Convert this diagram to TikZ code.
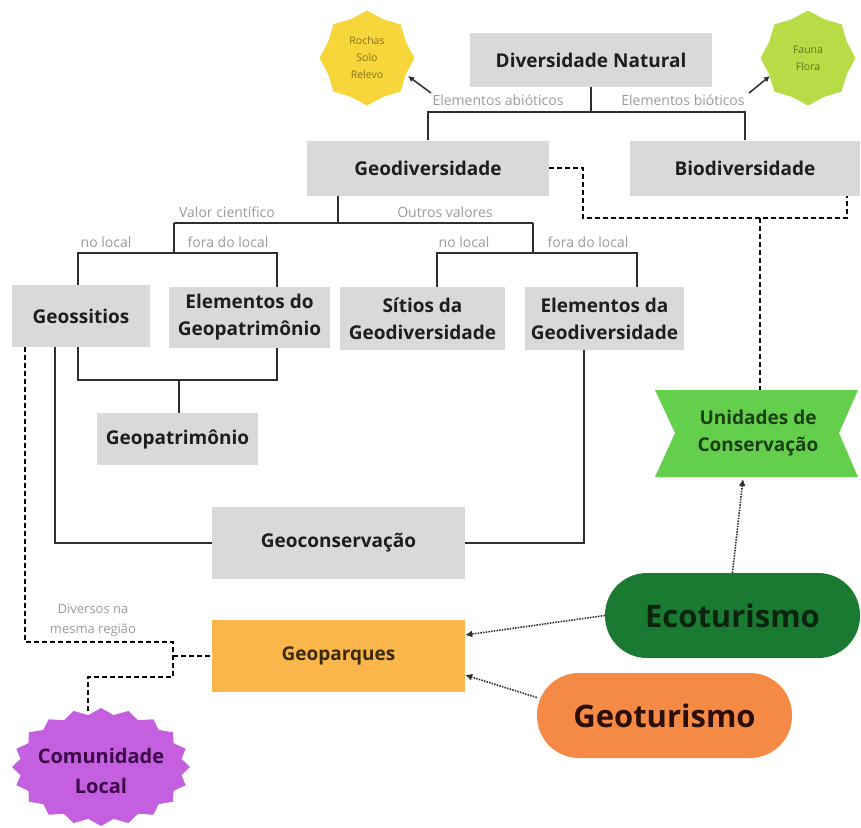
\documentclass[tikz,border=0pt]{standalone}
\usepackage{fontspec}
\setmainfont{Open Sans}
\usetikzlibrary{shapes.geometric,arrows.meta,calc}
\definecolor{boxgray}{HTML}{D9D9D9}
\definecolor{txtdark}{HTML}{1E1E1E}
\definecolor{labgray}{HTML}{9A9A9A}
\definecolor{lineC}{HTML}{2E2E2E}
\definecolor{rochasY}{HTML}{F6D63A}
\definecolor{rochasT}{HTML}{857418}
\definecolor{faunaG}{HTML}{B8DC45}
\definecolor{faunaT}{HTML}{587A20}
\definecolor{ucG}{HTML}{63CF4C}
\definecolor{ucT}{HTML}{1B3F14}
\definecolor{ecoG}{HTML}{1A7A32}
\definecolor{ecoT}{HTML}{0B2410}
\definecolor{geoO}{HTML}{F58A47}
\definecolor{geoOT}{HTML}{2B0E05}
\definecolor{gpY}{HTML}{FAB64A}
\definecolor{gpT}{HTML}{3A2A0A}
\definecolor{purp}{HTML}{C45FE0}
\definecolor{purpT}{HTML}{3A0848}
\begin{document}
\begin{tikzpicture}[x=1pt,y=-1pt,
  gbox/.style={fill=boxgray, text=txtdark, font=\bfseries\fontsize{19}{27}\selectfont, align=center, inner sep=0pt},
  lab/.style={text=labgray, font=\fontsize{14}{15}\selectfont, align=center, inner sep=0pt},
  conn/.style={draw=lineC, line width=2.6pt},
  dsh/.style={draw=black, line width=2.2pt, dash pattern=on 5pt off 3pt},
  dotarrow/.style={draw=lineC, line width=1.6pt, dash pattern=on 1.5pt off 1.2pt, -{Latex[length=7pt,width=7pt]}},
  thinarrow/.style={draw=lineC, line width=1.5pt, -{Latex[length=6pt,width=6pt]}},
  starbox/.style={star, star points=8, star point ratio=1.13, minimum size=95pt, inner sep=0pt},
  pill/.style={rounded corners=42pt, minimum width=255pt, minimum height=85pt, inner sep=0pt, font=\bfseries\fontsize{31}{32}\selectfont}
]
\useasboundingbox (0,0) rectangle (861,827);

% boxes
\node[gbox, minimum width=242pt, minimum height=54pt] (dn) at (591,60) {Diversidade Natural};
\node[gbox, minimum width=242pt, minimum height=55pt] (geo) at (428,168) {Geodiversidade};
\node[gbox, minimum width=230pt, minimum height=55pt] (bio) at (745,168) {Biodiversidade};
\node[gbox, minimum width=138pt, minimum height=62pt] (gs) at (81,316) {Geossitios};
\node[gbox, minimum width=161pt, minimum height=61pt] (egp) at (249.5,317.5) {Elementos do\\Geopatrimônio};
\node[gbox, minimum width=165pt, minimum height=63pt] (sg) at (422.5,318.5) {Sítios da\\Geodiversidade};
\node[gbox, minimum width=159pt, minimum height=63pt] (egd) at (604.5,318.5) {Elementos da\\Geodiversidade};
\node[gbox, minimum width=161pt, minimum height=52pt] (gp) at (177.5,439) {Geopatrimônio};
\node[gbox, minimum width=253pt, minimum height=72pt] (gc) at (338.5,543) {Geoconservação};
\node[gbox, fill=gpY, text=gpT, minimum width=253pt, minimum height=72pt] (gq) at (338.5,656) {Geoparques};

% stars
\node[starbox, fill=rochasY] (rochas) at (367,58) {};
\node[text=rochasT, font=\fontsize{10.5}{17}\selectfont, align=center] (rochasL) at (rochas.center) {Rochas\\Solo\\Relevo};
\node[starbox, fill=faunaG] (fauna) at (808,58) {};
\node[text=faunaT, font=\fontsize{10.5}{17}\selectfont, align=center] (faunaL) at (fauna.center) {Fauna\\Flora};

% Unidades de Conservacao ribbon
\fill[ucG] (655,390) -- (858,390) -- (839,433) -- (858,477) -- (655,477) -- (675,433) -- cycle;
\node[text=ucT, font=\bfseries\fontsize{19}{27}\selectfont, align=center] (uc) at (758,433) {Unidades de\\Conservação};
\coordinate (uctop) at (760,390);
\coordinate (ucbot) at (743,479);

% pills
\node[pill, fill=ecoG, text=ecoT] (eco) at (732.5,615.5) {Ecoturismo};
\node[pill, fill=geoO, text=geoOT] (gt) at (664.5,715.5) {Geoturismo};

% Comunidade local starburst
\fill[purp] plot[samples=41, domain=0:360] ({101+89*(1-0.085*mod(round(\x/9),2))*cos(\x)}, {767+59*(1-0.11*mod(round(\x/9),2))*sin(\x)}) -- cycle;
\node[text=purpT, font=\bfseries\fontsize{20}{30}\selectfont, align=center] (com) at (101,771) {Comunidade\\Local};
\coordinate (comtop) at (88,711);

% labels
\node[lab] (labAb) at (498,100) {Elementos abióticos};
\node[lab] (labBi) at (683,100) {Elementos bióticos};
\node[lab] (labVc) at (227,212) {Valor científico};
\node[lab] (labOv) at (445,212) {Outros valores};
\node[lab] (labNl1) at (106,242) {no local};
\node[lab] (labFl1) at (228,242) {fora do local};
\node[lab] (labNl2) at (464,242) {no local};
\node[lab] (labFl2) at (588,242) {fora do local};
\node[lab, font=\fontsize{13}{20}\selectfont] (labDv) at (93,620) {Diversos na\\mesma região};

% arrows to stars
\coordinate (abS) at (431,93);
\coordinate (abT) at (408,76);
\coordinate (biS) at (749,93);
\coordinate (biT) at (770,76);
\draw[thinarrow] (abS) -- (abT);
\draw[thinarrow] (biS) -- (biT);

% solid connectors
\coordinate (j1) at (591,112);
\draw[conn] (dn.south) -- (j1);
\draw[conn] (geo.north) |- (j1) -| (bio.north);

\coordinate (j2) at (338,223);
\coordinate (jl) at (174,223);
\coordinate (jr) at (533,223);
\draw[conn] (geo.south -| j2) -- (j2);
\draw[conn] (jl) -- (jr);
\coordinate (jl2) at (174,253);
\coordinate (jr2) at (533,253);
\draw[conn] (jl) -- (jl2);
\draw[conn] (jr) -- (jr2);
\draw[conn] ($(gs.north)+(-3,0)$) |- (jl2) -| ($(egp.north)+(27.5,0)$);
\draw[conn] ($(sg.north)+(14.5,0)$) |- (jr2) -| ($(egd.north)+(32.5,0)$);

\coordinate (j3) at (179,380);
\draw[conn] ($(gs.south)+(-3,0)$) |- (j3) -| ($(egp.south)+(27.5,0)$);
\draw[conn] (j3) -- (gp.north -| j3);

\draw[conn] ($(gs.south)+(-26,0)$) |- (gc.west);
\draw[conn] ($(egd.south)+(-20.5,0)$) |- (gc.east);

% dashed connectors
\coordinate (d1) at (173,642);
\coordinate (d2) at (173,677);
\draw[dsh] ($(gs.south)+(-56,0)$) |- (d1) -- (d2) -| (comtop);
\draw[dsh] (gq.west -| d1) -- (gq.west);
\coordinate (d3) at (583,218);
\coordinate (d4) at (847,218);
\draw[dsh] (geo.east) -| (d3) -- (d4) -- (bio.south -| d4);
\draw[dsh] (uctop |- d3) -- (uctop);

% dotted arrows
\draw[dotarrow] (eco.west) -- ($(gq.east)+(0,-21)$);
\draw[dotarrow] ($(gt.west)+(0,-18)$) -- ($(gq.east)+(0,19)$);
\draw[dotarrow] (eco.north) -- (ucbot);
\end{tikzpicture}
\end{document}
